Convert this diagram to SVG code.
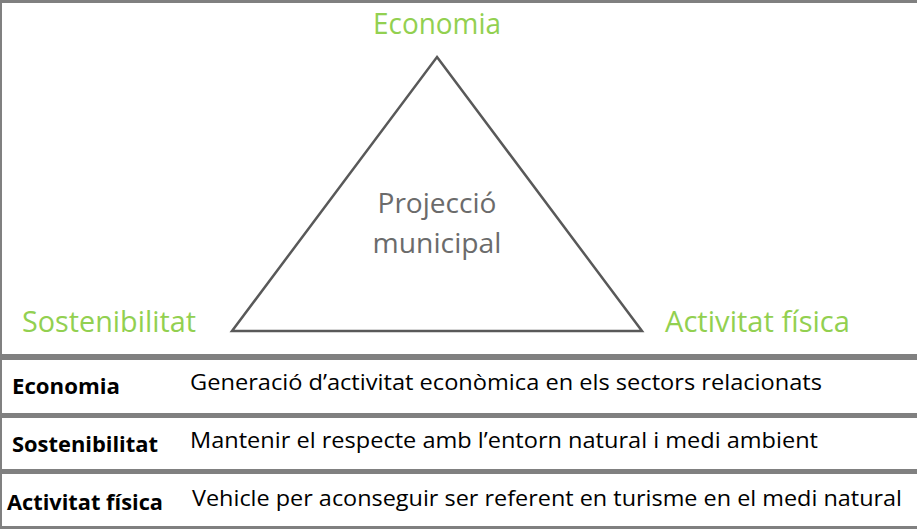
<svg xmlns="http://www.w3.org/2000/svg" width="917" height="529" viewBox="0 0 917 529">
<style>
.g{font-family:"Open Sans","Noto Sans",sans-serif;font-size:29px;fill:#92D050;}
.c{font-family:"Open Sans","Noto Sans",sans-serif;font-size:28px;fill:#6b6b6b;text-anchor:middle;}
.lb{font-family:"Open Sans","Noto Sans",sans-serif;font-size:21px;font-weight:bold;fill:#000;}
.ds{font-family:"Open Sans","Noto Sans",sans-serif;font-size:21px;fill:#000;}
.sep{fill:#808080;}
</style>
<rect x="0" y="0" width="917" height="529" fill="#fff"/>
<g id="frame">
<rect class="sep" x="0" y="0" width="917" height="3"/>
<rect class="sep" x="0" y="0" width="2" height="529"/>
<rect class="sep" x="0" y="354" width="917" height="6"/>
<rect class="sep" x="0" y="413" width="917" height="5"/>
<rect class="sep" x="0" y="469" width="917" height="5"/>
<rect class="sep" x="0" y="526" width="917" height="3"/>
</g>
<g id="triangle">
<polygon points="437,57 642,331 232,331" fill="none" stroke="#595959" stroke-width="2.5" stroke-linejoin="miter"/>
<text class="c" x="437" y="213" textLength="119" lengthAdjust="spacingAndGlyphs">Projecció</text>
<text class="c" x="437" y="253" textLength="129" lengthAdjust="spacingAndGlyphs">municipal</text>
</g>
<g id="label-economia"><text class="g" x="373" y="34" textLength="128" lengthAdjust="spacingAndGlyphs">Economia</text></g>
<g id="label-sostenibilitat"><text class="g" x="22" y="332" textLength="174" lengthAdjust="spacingAndGlyphs">Sostenibilitat</text></g>
<g id="label-activitat"><text class="g" x="665" y="332" textLength="185" lengthAdjust="spacingAndGlyphs">Activitat física</text></g>
<g id="row-economia">
<text class="lb" x="12" y="394" textLength="108" lengthAdjust="spacingAndGlyphs">Economia</text>
<text class="ds" x="190" y="390" textLength="632" lengthAdjust="spacingAndGlyphs">Generació d’activitat econòmica en els sectors relacionats</text>
</g>
<g id="row-sostenibilitat">
<text class="lb" x="12" y="452" textLength="146" lengthAdjust="spacingAndGlyphs">Sostenibilitat</text>
<text class="ds" x="190" y="448" textLength="628" lengthAdjust="spacingAndGlyphs">Mantenir el respecte amb l’entorn natural i medi ambient</text>
</g>
<g id="row-activitat">
<text class="lb" x="7" y="510" textLength="156" lengthAdjust="spacingAndGlyphs">Activitat física</text>
<text class="ds" x="192" y="506" textLength="710" lengthAdjust="spacingAndGlyphs">Vehicle per aconseguir ser referent en turisme en el medi natural</text>
</g>
</svg>
